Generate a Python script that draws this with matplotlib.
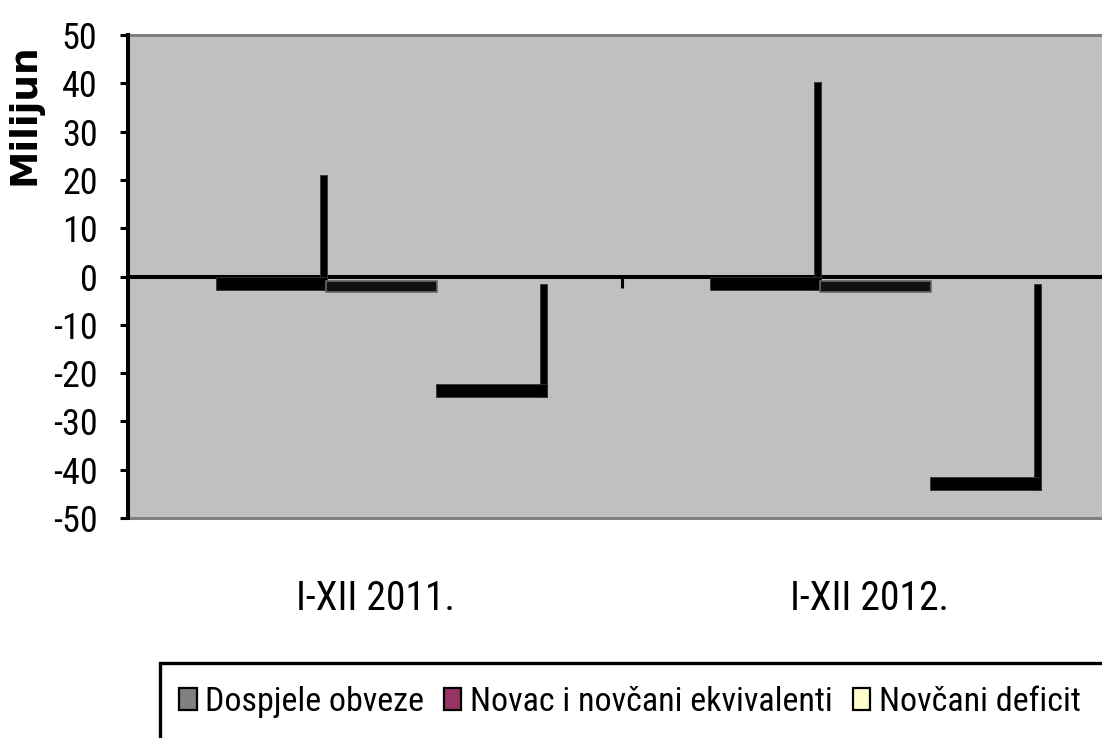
import matplotlib
matplotlib.use("Agg")
import matplotlib.pyplot as plt
from matplotlib.patches import Rectangle, Patch
from matplotlib.transforms import IdentityTransform
from matplotlib.ticker import FixedLocator

# ---- data ----
categories = ["I-XII 2011.", "I-XII 2012."]
series_names = ["Dospjele obveze", "Novac i novčani ekvivalenti", "Novčani deficit"]
dospjele_obveze = [22.5, 41.7]
novac_ekvivalenti = [-0.8, -0.8]
novcani_deficit = [-22.3, -41.6]
series_colors = ["#808080", "#993366", "#FFFFCC"]
y_ticks = [-50, -40, -30, -20, -10, 0, 10, 20, 30, 40, 50]
y_label = "Milijun"

NARROW = ["Roboto Condensed", "DejaVu Sans"]
DPI = 100
W, H = 1102, 738

fig = plt.figure(figsize=(W / DPI, H / DPI), dpi=DPI)
fig.patch.set_facecolor("white")

left, right, top, bottom = 128, 1116, 35, 518
ax = fig.add_axes([left / W, (H - bottom) / H, (right - left) / W, (bottom - top) / H])
ax.set_facecolor("#C0C0C0")
ax.patch.set_edgecolor("#808080")
ax.patch.set_linewidth(2.2)

ax.set_xlim(0.5, 2.5)
ax.set_ylim(-50, 50)

# spines
for s in ["top", "right"]:
    ax.spines[s].set_visible(False)
ax.spines["left"].set_color("black")
ax.spines["left"].set_linewidth(2.9)
ax.spines["bottom"].set_position(("data", 0))
ax.spines["bottom"].set_color("black")
ax.spines["bottom"].set_linewidth(2.9)

# y ticks
ax.set_yticks(y_ticks)
ax.set_yticklabels([str(t) for t in y_ticks], family=NARROW, fontsize=26)
ax.tick_params(axis="y", direction="out", length=6, width=2.2, color="black", pad=16)

# x ticks: labels at category centers, boundary minor tick
x_pos = [1, 2]
ax.set_xticks(x_pos)
ax.set_xticklabels(categories, family=NARROW, fontsize=28.5)
ax.tick_params(axis="x", which="major", length=0, pad=218)
ax.xaxis.set_minor_locator(FixedLocator([1.5]))
ax.tick_params(axis="x", which="minor", direction="out", length=8, width=2.2, color="black")

# y label
ax.set_ylabel(y_label, family="DejaVu Sans", fontweight="bold", fontsize=27)
ax.yaxis.set_label_coords((43 - left) / (right - left), (bottom - 114) / (bottom - top))

# ---- bars (transparent) with Excel-like black shadows ----
bw = 0.222
series = [dospjele_obveze, novac_ekvivalenti, novcani_deficit]
offsets = [-bw, 0, bw]
bar_containers = []
for vals, off, col, name in zip(series, offsets, series_colors, series_names):
    bc = ax.bar([x + off for x in x_pos], vals, width=bw, color="none",
                edgecolor="none", label=name)
    bar_containers.append(bc)

for si, bc in enumerate(bar_containers):
    for p in bc.patches:
        bb = p.get_bbox()
        (x0, y0), (x1, y1) = ax.transData.transform([(bb.x0, bb.y0), (bb.x1, bb.y1)])
        xl, xr = min(x0, x1), max(x0, x1)
        yb, yt = min(y0, y1), max(y0, y1)
        if si == 1:
            # tiny bar: only its shadow strip shows, a bit lighter at the rim
            ax.add_patch(Rectangle((xl + 6, yb - 12), xr - xl + 1, 11,
                                   transform=IdentityTransform(), clip_on=False,
                                   facecolor="#111111", edgecolor="#666666",
                                   linewidth=1.2, zorder=3))
            continue
        # vertical strip on right side
        ax.add_patch(Rectangle((xr, yb - 13), 7, (yt - 7) - (yb - 13),
                               transform=IdentityTransform(), clip_on=False,
                               facecolor="black", edgecolor="#333333",
                               linewidth=0.6, zorder=3))
        # horizontal strip at bottom
        ax.add_patch(Rectangle((xl + 6, yb - 13), xr - xl + 1, 13,
                               transform=IdentityTransform(), clip_on=False,
                               facecolor="black", edgecolor="#333333",
                               linewidth=0.6, zorder=3))

# ---- legend ----
frame = Rectangle((160 / W, -20 / H), 980 / W, (H - 663 + 20) / H,
                  transform=fig.transFigure, facecolor="white",
                  edgecolor="black", linewidth=2.4, zorder=0)
fig.add_artist(frame)
handles = [Patch(facecolor=c, edgecolor="black", linewidth=1.6) for c in series_colors]
leg = fig.legend(handles, series_names, loc="center",
                 bbox_to_anchor=(630 / W, (H - 702) / H), ncol=3, frameon=False,
                 prop={"family": NARROW, "size": 24.5},
                 handlelength=0.5, handleheight=0.6, handletextpad=0.25,
                 columnspacing=0.6, borderpad=0.1)

fig.savefig("out.png", dpi=DPI, facecolor="white")
